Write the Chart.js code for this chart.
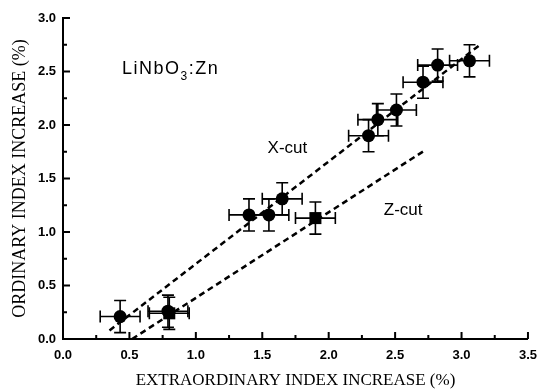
<!DOCTYPE html>
<html>
<head>
<meta charset="utf-8">
<script src="https://cdn.jsdelivr.net/npm/chart.js@4/dist/chart.umd.min.js"></script>
<style>
	body { margin: 0; background: #fff; }
	#wrap { width: 546px; height: 391px; }
</style>
</head>
<body>
<div id="wrap"><canvas id="mycanvas" width="546" height="391"></canvas></div>
<script>
// values
var xcutX = [0.43, 0.79, 1.40, 1.55, 1.65, 2.30, 2.37, 2.51, 2.71, 2.82, 3.06];
var xcutY = [0.21, 0.26, 1.16, 1.16, 1.31, 1.90, 2.05, 2.14, 2.40, 2.56, 2.60];
var zcutX = [0.80, 1.90];
var zcutY = [0.24, 1.13];
var xErr = 0.15;
var yErr = 0.15;

// dashed fit lines (end points)
var xfitX = [0.35, 3.14];
var xfitY = [0.08, 2.75];
var zfitX = [0.52, 2.72];
var zfitY = [0.00, 1.76];

var xTicks = [0, 0.5, 1.0, 1.5, 2.0, 2.5, 3.0, 3.5];
var yTicks = [0, 0.5, 1.0, 1.5, 2.0, 2.5, 3.0];

function pts(xs, ys) {
	var out = [];
	for (var i in xs) {
		out.push({x: xs[i], y: ys[i]});
	}
	return out;
}

var errorBars = {
	id: 'errorBars',
	afterDatasetsDraw: function(chart) {
		var ctx = chart.ctx;
		var xs = chart.scales.x, ys = chart.scales.y;
		var cap = 6;
		ctx.save();
		ctx.strokeStyle = '#000';
		ctx.lineWidth = 1.6;
		[[xcutX, xcutY], [zcutX, zcutY]].forEach(function(set) {
			for (var i = 0; i < set[0].length; i++) {
				var px = xs.getPixelForValue(set[0][i]);
				var py = ys.getPixelForValue(set[1][i]);
				var l = xs.getPixelForValue(set[0][i] - xErr);
				var r = xs.getPixelForValue(set[0][i] + xErr);
				var t = ys.getPixelForValue(set[1][i] + yErr);
				var b = ys.getPixelForValue(set[1][i] - yErr);
				ctx.beginPath();
				ctx.moveTo(l, py); ctx.lineTo(r, py);
				ctx.moveTo(l, py - cap); ctx.lineTo(l, py + cap);
				ctx.moveTo(r, py - cap); ctx.lineTo(r, py + cap);
				ctx.moveTo(px, t); ctx.lineTo(px, b);
				ctx.moveTo(px - cap, t); ctx.lineTo(px + cap, t);
				ctx.moveTo(px - cap, b); ctx.lineTo(px + cap, b);
				ctx.stroke();
			}
		});
		ctx.restore();
	}
};

// inward ticks, major and minor, plus the text in the plot
var innerTicks = {
	id: 'innerTicks',
	afterDraw: function(chart) {
		var ctx = chart.ctx;
		var xs = chart.scales.x, ys = chart.scales.y;
		var a = chart.chartArea;
		ctx.save();
		ctx.strokeStyle = '#000';
		ctx.lineWidth = 2;
		ctx.beginPath();
		for (var i = 0; i < xTicks.length; i++) {
			var px = xs.getPixelForValue(xTicks[i]);
			ctx.moveTo(px, a.bottom); ctx.lineTo(px, a.bottom - 7);
			if (i < xTicks.length - 1) {
				var mx = xs.getPixelForValue((xTicks[i] + xTicks[i + 1]) / 2);
				ctx.moveTo(mx, a.bottom); ctx.lineTo(mx, a.bottom - 4);
			}
		}
		for (var j = 0; j < yTicks.length; j++) {
			var py = ys.getPixelForValue(yTicks[j]);
			ctx.moveTo(a.left, py); ctx.lineTo(a.left + 7, py);
			if (j < yTicks.length - 1) {
				var my = ys.getPixelForValue((yTicks[j] + yTicks[j + 1]) / 2);
				ctx.moveTo(a.left, my); ctx.lineTo(a.left + 4, my);
			}
		}
		ctx.stroke();

		ctx.fillStyle = '#000';
		ctx.textBaseline = 'alphabetic';
		ctx.textAlign = 'left';
		ctx.font = '17px "Liberation Sans", Arial, sans-serif';
		ctx.fillText('X-cut', xs.getPixelForValue(1.54), ys.getPixelForValue(1.74));
		ctx.fillText('Z-cut', xs.getPixelForValue(2.415), ys.getPixelForValue(1.155));

		var lx = xs.getPixelForValue(0.444);
		var ly = ys.getPixelForValue(2.477);
		ctx.letterSpacing = '1.5px';
		ctx.font = '18px "Liberation Sans", Arial, sans-serif';
		ctx.fillText('LiNbO', lx, ly);
		lx += ctx.measureText('LiNbO').width;
		ctx.font = '12px "Liberation Sans", Arial, sans-serif';
		ctx.fillText('3', lx, ly + 6);
		lx += ctx.measureText('3').width;
		ctx.font = '18px "Liberation Sans", Arial, sans-serif';
		ctx.fillText(':Zn', lx, ly);
		ctx.restore();
	}
};

var tickFont = {family: '"Liberation Sans", Arial, sans-serif', size: 13, weight: 'bold'};

var chartdata = {
	datasets: [
		{
			label: 'X-cut',
			data: pts(xcutX, xcutY),
			pointStyle: 'circle',
			pointRadius: 6.5,
			backgroundColor: '#000',
			borderColor: '#000',
			borderWidth: 0
		},
		{
			label: 'Z-cut',
			data: pts(zcutX, zcutY),
			pointStyle: 'rect',
			pointRadius: 8.5,
			backgroundColor: '#000',
			borderColor: '#000',
			borderWidth: 0
		},
		{
			label: 'X-cut fit',
			type: 'line',
			data: pts(xfitX, xfitY),
			showLine: true,
			pointRadius: 0,
			borderColor: '#000',
			borderWidth: 2.5,
			borderDash: [6, 4],
			fill: false
		},
		{
			label: 'Z-cut fit',
			type: 'line',
			data: pts(zfitX, zfitY),
			showLine: true,
			pointRadius: 0,
			borderColor: '#000',
			borderWidth: 2.5,
			borderDash: [6, 4],
			fill: false
		}
	]
};

var ctx = document.getElementById('mycanvas');

var scatterChart = new Chart(ctx, {
	type: 'scatter',
	data: chartdata,
	plugins: [errorBars, innerTicks],
	options: {
		responsive: false,
		animation: false,
		devicePixelRatio: 1,
		layout: { padding: { top: 18, right: 12, left: 0, bottom: 0 } },
		plugins: {
			legend: { display: false },
			tooltip: { enabled: false }
		},
		scales: {
			x: {
				type: 'linear',
				min: 0,
				max: 3.5,
				afterFit: function(scale) { scale.height = 52; },
				afterBuildTicks: function(scale) {
					scale.ticks = xTicks.map(function(v) { return {value: v}; });
				},
				grid: { display: false, drawTicks: false },
				border: { display: true, color: '#000', width: 2 },
				ticks: {
					padding: 9,
					color: '#000',
					font: tickFont,
					callback: function(v) { return v.toFixed(1); }
				},
				title: {
					display: true,
					text: 'EXTRAORDINARY INDEX INCREASE (%)',
					color: '#000',
					font: {family: '"Liberation Serif", "Times New Roman", serif', size: 17},
					padding: { top: 0, bottom: 0 }
				}
			},
			y: {
				type: 'linear',
				min: 0,
				max: 3.0,
				afterFit: function(scale) { scale.width = 63; },
				afterBuildTicks: function(scale) {
					scale.ticks = yTicks.map(function(v) { return {value: v}; });
				},
				grid: { display: false, drawTicks: false },
				border: { display: true, color: '#000', width: 2 },
				ticks: {
					padding: 7,
					color: '#000',
					font: tickFont,
					callback: function(v) { return v.toFixed(1); }
				},
				title: {
					display: true,
					text: 'ORDINARY INDEX INCREASE (%)',
					color: '#000',
					font: {family: '"Liberation Serif", "Times New Roman", serif', size: 18},
					padding: { top: 9, bottom: 0 }
				}
			}
		}
	}
});
</script>
</body>
</html>
